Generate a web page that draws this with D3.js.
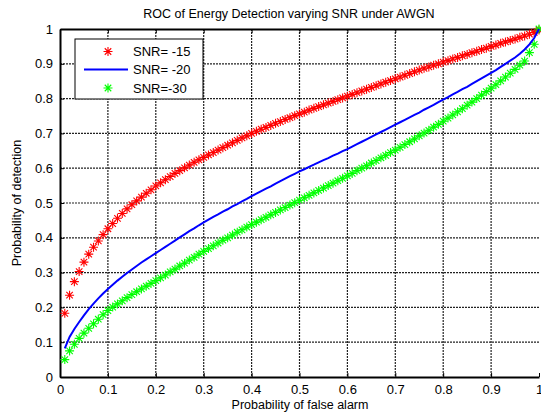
<!DOCTYPE html>
<html>
<head>
<meta charset="utf-8">
<script src="https://cdn.jsdelivr.net/npm/d3@7"></script>
<style>
  body { margin: 0; background: #fff; }
  text { font-family: "Liberation Sans", Arial, sans-serif; fill: #000; }
</style>
</head>
<body>
<div id="container"></div>
<script>
// probability of false alarm (x values)
let pfa = [0.01,0.02,0.03,0.04,0.05,0.06,0.07,0.08,0.09,0.10,
  0.11,0.12,0.13,0.14,0.15,0.16,0.17,0.18,0.19,0.20,
  0.21,0.22,0.23,0.24,0.25,0.26,0.27,0.28,0.29,0.30,
  0.31,0.32,0.33,0.34,0.35,0.36,0.37,0.38,0.39,0.40,
  0.41,0.42,0.43,0.44,0.45,0.46,0.47,0.48,0.49,0.50,
  0.51,0.52,0.53,0.54,0.55,0.56,0.57,0.58,0.59,0.60,
  0.61,0.62,0.63,0.64,0.65,0.66,0.67,0.68,0.69,0.70,
  0.71,0.72,0.73,0.74,0.75,0.76,0.77,0.78,0.79,0.80,
  0.81,0.82,0.83,0.84,0.85,0.86,0.87,0.88,0.89,0.90,
  0.91,0.92,0.93,0.94,0.95,0.96,0.97,0.98,0.99,1.00];

let pdSnr15 = [.183,.235,.274,.303,.330,.353,.373,.391,.409,.426,
  .441,.456,.470,.483,.495,.506,.517,.528,.538,.549,
  .558,.567,.576,.585,.593,.601,.609,.617,.624,.631,
  .638,.645,.652,.659,.666,.673,.680,.687,.693,.700,
  .706,.712,.717,.723,.729,.734,.740,.745,.751,.756,
  .761,.767,.772,.777,.782,.787,.792,.797,.802,.807,
  .812,.817,.822,.827,.832,.837,.842,.847,.852,.857,
  .862,.867,.872,.877,.882,.887,.891,.896,.900,.905,
  .909,.914,.918,.923,.927,.932,.936,.941,.945,.950,
  .954,.959,.963,.967,.971,.976,.980,.985,.990,.997];

let pdSnr20 = [.082,.115,.138,.158,.177,.195,.211,.226,.240,.253,
  .265,.277,.288,.299,.309,.319,.329,.338,.347,.356,
  .365,.374,.383,.392,.401,.410,.419,.427,.436,.444,
  .452,.460,.467,.475,.482,.490,.497,.505,.512,.520,
  .527,.534,.541,.548,.556,.563,.570,.577,.584,.591,
  .597,.604,.610,.617,.623,.629,.636,.642,.649,.655,
  .662,.669,.676,.683,.690,.697,.704,.711,.718,.725,
  .732,.739,.746,.753,.760,.768,.775,.782,.790,.797,
  .804,.812,.819,.827,.834,.842,.850,.858,.866,.874,
  .882,.891,.900,.909,.918,.929,.941,.956,.974,1.0];

let pdSnr30 = [.050,.075,.094,.111,.126,.140,.153,.166,.179,.191,
  .201,.210,.219,.228,.237,.245,.253,.261,.269,.277,
  .285,.293,.302,.310,.319,.327,.336,.344,.353,.361,
  .369,.377,.385,.393,.400,.408,.416,.423,.431,.438,
  .445,.452,.459,.466,.473,.480,.487,.494,.501,.508,
  .515,.522,.529,.536,.543,.550,.557,.564,.571,.578,
  .585,.593,.600,.607,.615,.622,.630,.637,.645,.652,
  .660,.668,.676,.684,.693,.701,.709,.718,.726,.735,
  .744,.753,.762,.771,.781,.790,.800,.810,.820,.830,
  .840,.851,.862,.873,.884,.896,.908,.932,.956,1.0];

let xTicks = [0,0.1,0.2,0.3,0.4,0.5,0.6,0.7,0.8,0.9,1];
let yTicks = [0,0.1,0.2,0.3,0.4,0.5,0.6,0.7,0.8,0.9,1];
let legendNames = ["SNR= -15","SNR= -20","SNR=-30"];

let width = 541, height = 415;
let plotLeft = 60, plotRight = 539, plotTop = 29, plotBottom = 377;

let svg = d3.select("#container")
  .append("svg")
    .attr("width", width)
    .attr("height", height)
;

svg.append("rect").attr("width", width).attr("height", height).attr("fill", "#fff");

let x = d3.scaleLinear().domain([0, 1]).range([plotLeft, plotRight]);
let y = d3.scaleLinear().domain([0, 1]).range([plotBottom, plotTop]);

// grid
svg.append("g").selectAll("line").data(xTicks.slice(1, -1)).enter()
  .append("line")
    .attr("x1", d => x(d)).attr("x2", d => x(d))
    .attr("y1", plotTop).attr("y2", plotBottom)
    .attr("stroke", "#222").attr("stroke-width", 1.2)
    .attr("stroke-dasharray", "2,1")
;
svg.append("g").selectAll("line").data(yTicks.slice(1, -1)).enter()
  .append("line")
    .attr("x1", plotLeft).attr("x2", plotRight)
    .attr("y1", d => y(d)).attr("y2", d => y(d))
    .attr("stroke", "#222").attr("stroke-width", 1.2)
    .attr("stroke-dasharray", "2,1")
;

// axes
let xAxis = svg.append("g")
  .attr("transform", "translate(0," + plotBottom + ")")
  .call(d3.axisBottom(x).tickValues(xTicks).tickFormat(d3.format("")).tickSizeInner(-4).tickSizeOuter(0).tickPadding(8));
let xTop = svg.append("g")
  .attr("transform", "translate(0," + plotTop + ")")
  .call(d3.axisTop(x).tickValues(xTicks).tickFormat("").tickSizeInner(-4).tickSizeOuter(0));
let yAxis = svg.append("g")
  .attr("transform", "translate(" + plotLeft + ",0)")
  .call(d3.axisLeft(y).tickValues(yTicks).tickFormat(d3.format("")).tickSizeInner(-4).tickSizeOuter(0).tickPadding(7));

[xAxis, xTop, yAxis].forEach(function(g){
  g.select(".domain").attr("stroke", "#000").attr("stroke-width", 2);
  g.selectAll(".tick line").attr("stroke", "#000");
  g.selectAll(".tick text").attr("font-size", 13).attr("fill", "#000")
    .style("font-family", "'Liberation Sans', Arial, sans-serif");
});

// star marker
function starPath(s){
  let d = s * 0.72;
  return "M" + (-s) + ",0L" + s + ",0M0," + (-s) + "L0," + s +
    "M" + (-d) + "," + (-d) + "L" + d + "," + d +
    "M" + (-d) + "," + d + "L" + d + "," + (-d);
}

function drawStars(values, color){
  svg.append("g").selectAll("path").data(values).enter()
    .append("path")
      .attr("transform", (d, i) => "translate(" + x(pfa[i]) + "," + y(d) + ")")
      .attr("d", starPath(4.5))
      .attr("stroke", color)
      .attr("stroke-width", 1.1)
      .attr("fill", "none")
  ;
}

drawStars(pdSnr15, "#ff0000");
drawStars(pdSnr30, "#00ff00");

let line = d3.line().x((d, i) => x(pfa[i])).y(d => y(d));
svg.append("path")
  .datum(pdSnr20)
  .attr("d", line)
  .attr("fill", "none")
  .attr("stroke", "#0000ff")
  .attr("stroke-width", 2)
;

// legend
let legend = svg.append("g");
legend.append("rect")
  .attr("x", 75).attr("y", 39).attr("width", 128).attr("height", 60)
  .attr("fill", "#fff").attr("stroke", "#000").attr("stroke-width", 1);
let rows = [51.5, 69.5, 88];
legend.append("path").attr("transform", "translate(108," + rows[0] + ")")
  .attr("d", starPath(4.5)).attr("stroke", "#ff0000").attr("stroke-width", 1.1);
legend.append("line").attr("x1", 84).attr("x2", 128).attr("y1", rows[1]).attr("y2", rows[1])
  .attr("stroke", "#0000ff").attr("stroke-width", 2);
legend.append("path").attr("transform", "translate(108," + rows[2] + ")")
  .attr("d", starPath(4.5)).attr("stroke", "#00ff00").attr("stroke-width", 1.1);
legend.selectAll("text.lg").data(legendNames).enter()
  .append("text")
    .attr("class", "lg")
    .attr("x", 133)
    .attr("y", (d, i) => rows[i])
    .attr("dy", "0.35em")
    .attr("font-size", 13)
    .text(d => d)
;

// titles
svg.append("text")
  .attr("x", 289).attr("y", 18)
  .attr("text-anchor", "middle").attr("font-size", 12.5)
  .text("ROC of Energy Detection varying SNR under AWGN");
svg.append("text")
  .attr("x", 300).attr("y", 409)
  .attr("text-anchor", "middle").attr("font-size", 12.5)
  .text("Probability of false alarm");
svg.append("text")
  .attr("transform", "translate(21,203) rotate(-90)")
  .attr("text-anchor", "middle").attr("font-size", 12.5)
  .text("Probability of detection");
</script>
</body>
</html>
